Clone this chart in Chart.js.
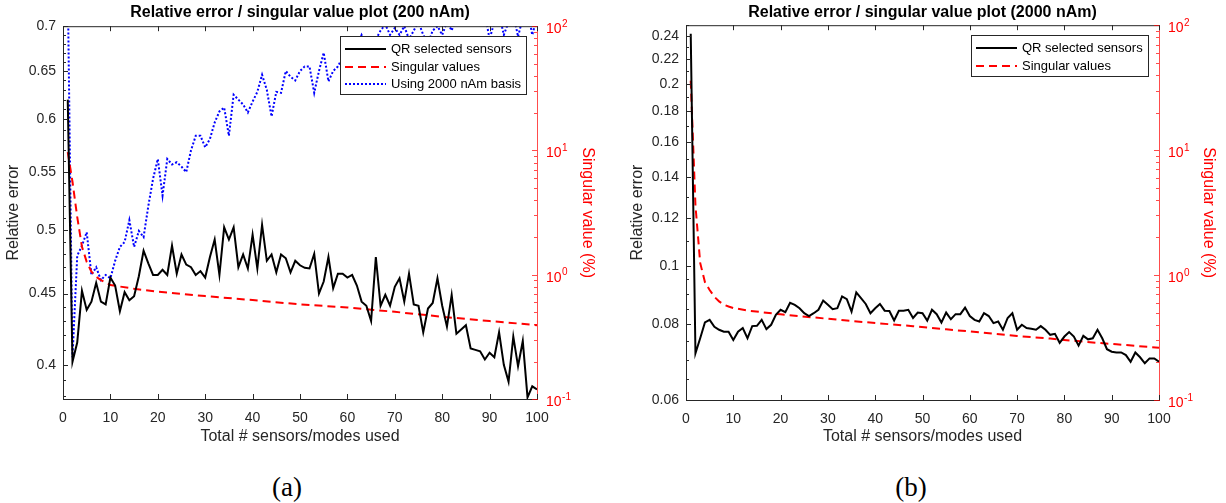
<!DOCTYPE html>
<html>
<head>
<meta charset="utf-8">
<script src="https://cdn.jsdelivr.net/npm/chart.js@4"></script>
<style>
  html, body { margin: 0; padding: 0; background: #fff; }
  #wrap { position: relative; width: 1226px; height: 503px; overflow: hidden; }
  canvas { position: absolute; top: 0; }
  #c200 { left: 0; }
  #c2000 { left: 613px; }
  .sub { position: absolute; top: 472px; width: 60px; margin-left: -30px; text-align: center;
         font: 27px 'Liberation Serif', 'Times New Roman', serif; line-height: 30px; color: #000; }
</style>
</head>
<body>
<div id="wrap">
  <canvas id="c200" width="613" height="455"></canvas>
  <canvas id="c2000" width="613" height="455"></canvas>
  <div class="sub" style="left:287px">(a)</div>
  <div class="sub" style="left:911px">(b)</div>
</div>
<script>
// sensor / mode counts
const sensors = Array.from({ length: 100 }, (_, i) => i + 1);

// 200 nAm source: QR relative error
const qrErr200 = [
  0.62, 0.402, 0.415, 0.452, 0.438, 0.444, 0.458, 0.444, 0.442, 0.462,
  0.456, 0.437, 0.451, 0.445, 0.448, 0.463, 0.483, 0.473, 0.464, 0.464,
  0.468, 0.464, 0.487, 0.465, 0.48, 0.472, 0.47, 0.464, 0.467, 0.462,
  0.478, 0.492, 0.464, 0.502, 0.492, 0.502, 0.47, 0.48, 0.469, 0.496,
  0.469, 0.504, 0.475, 0.48, 0.466, 0.48, 0.477, 0.466, 0.475, 0.4715,
  0.4695, 0.469, 0.4805, 0.45, 0.459, 0.478, 0.454, 0.465, 0.465, 0.462,
  0.464, 0.456, 0.444, 0.441, 0.43, 0.478, 0.441, 0.449, 0.441, 0.455,
  0.4615, 0.444, 0.465, 0.442, 0.441, 0.422, 0.439, 0.443, 0.4615, 0.441,
  0.426, 0.449, 0.421, 0.424, 0.427, 0.411, 0.41, 0.409, 0.4035, 0.408,
  0.405, 0.422, 0.4, 0.389, 0.419, 0.399, 0.416, 0.379, 0.386, 0.384
];

// 200 nAm source reconstructed with the 2000 nAm basis
const basis2000 = [
  0.75, 0.405, 0.479, 0.487, 0.498, 0.464, 0.47, 0.46, 0.464, 0.4615,
  0.475, 0.486, 0.49, 0.508, 0.486, 0.499, 0.494, 0.52, 0.544, 0.562,
  0.529, 0.562, 0.557, 0.559, 0.555, 0.55, 0.57, 0.584, 0.584, 0.573,
  0.581, 0.597, 0.608, 0.612, 0.584, 0.625, 0.62, 0.615, 0.607, 0.618,
  0.628, 0.646, 0.63, 0.603, 0.628, 0.627, 0.65, 0.644, 0.64, 0.65,
  0.655, 0.655, 0.627, 0.65, 0.67, 0.639, 0.65, 0.655, 0.665, 0.67,
  0.66, 0.675, 0.69, 0.68, 0.67, 0.685, 0.695, 0.702, 0.69, 0.698,
  0.69, 0.7, 0.685, 0.695, 0.705, 0.69, 0.68, 0.695, 0.7, 0.69,
  0.705, 0.695, 0.71, 0.715, 0.705, 0.72, 0.71, 0.7, 0.715, 0.685,
  0.705, 0.715, 0.69, 0.705, 0.715, 0.688, 0.71, 0.72, 0.69, 0.71
];

// singular values (%) of the 200 nAm basis
const svModes200 = [1, 2, 3, 4, 5, 6, 7, 8, 10, 15, 20, 30, 40, 50, 60, 70, 80, 90, 100];
const sv200 = [9.7, 5.6, 2.92, 1.68, 1.27, 1.06, 0.96, 0.906, 0.826, 0.771, 0.73, 0.673, 0.625, 0.577, 0.545, 0.503, 0.459, 0.424, 0.393];

// 2000 nAm source: QR relative error
const qrErr2000 = [
  0.242, 0.0717, 0.0759, 0.0806, 0.0814, 0.0793, 0.0784, 0.0778, 0.0778, 0.0754,
  0.0778, 0.0789, 0.0759, 0.0795, 0.0796, 0.0814, 0.0786, 0.0799, 0.083, 0.0846,
  0.0838, 0.0869, 0.0862, 0.0851, 0.0835, 0.0826, 0.0835, 0.0846, 0.0876, 0.0862,
  0.0848, 0.0851, 0.089, 0.0881, 0.084, 0.0904, 0.0884, 0.0865, 0.0835, 0.0851,
  0.0865, 0.0843, 0.0842, 0.0812, 0.0843, 0.0843, 0.0846, 0.082, 0.0837, 0.0835,
  0.0812, 0.0846, 0.0832, 0.0806, 0.0837, 0.0816, 0.0832, 0.0832, 0.0853, 0.0826,
  0.0814, 0.0809, 0.0835, 0.0826, 0.0804, 0.0809, 0.0784, 0.082, 0.0835, 0.0784,
  0.0799, 0.0789, 0.0787, 0.0784, 0.0795, 0.0784, 0.0769, 0.0772, 0.0746, 0.0764,
  0.0777, 0.0764, 0.0738, 0.0766, 0.0756, 0.0759, 0.0784, 0.0759, 0.0728, 0.0721,
  0.0719, 0.0719, 0.0712, 0.0694, 0.0719, 0.0706, 0.069, 0.0703, 0.0703, 0.0694
];

// singular values (%) of the 2000 nAm basis
const svModes2000 = [1, 2, 3, 4, 5, 6, 7, 8, 9, 10, 13, 20, 27, 34, 41, 48, 55, 62, 70, 77, 84, 91, 100];
const sv2000 = [36, 3.6, 1.25, 0.88, 0.76, 0.67, 0.615, 0.58, 0.56, 0.545, 0.52, 0.485, 0.458, 0.432, 0.41, 0.39, 0.368, 0.348, 0.325, 0.31, 0.293, 0.279, 0.262];

// tick values
const xTicks = [0, 10, 20, 30, 40, 50, 60, 70, 80, 90, 100];
const errTicks200 = [0.4, 0.45, 0.5, 0.55, 0.6, 0.65, 0.7];
const errTicks2000 = [0.06, 0.08, 0.1, 0.12, 0.14, 0.16, 0.18, 0.2, 0.22, 0.24];
const svTicks = [0.1, 1, 10, 100];

const FONT = "'Liberation Sans', Arial, Helvetica, sans-serif";
const AXIS = '#262626';
const RED = '#ff0000';

const steps = (from, to, step) => {
  const out = [];
  for (let v = from; v <= to + 1e-9; v += step) out.push(+v.toFixed(4));
  return out;
};
const errMinor200 = steps(0.38, 0.7, 0.01);
const errMinor2000 = steps(0.06, 0.1, 0.005).concat(steps(0.11, 0.25, 0.01));
const svMinor = [0.2, 0.3, 0.4, 0.5, 0.6, 0.7, 0.8, 0.9, 2, 3, 4, 5, 6, 7, 8, 9, 20, 30, 40, 50, 60, 70, 80, 90];

const pts = (xs, ys) => xs.map((x, i) => ({ x, y: ys[i] }));

// box-style axes: inward ticks, top frame line, red 10^n labels on the right
const boxAxes = {
  id: 'boxAxes',
  afterDatasetsDraw(chart, args, o) {
    const { ctx, chartArea: a, scales } = chart;
    const seg = (x1, y1, x2, y2) => { ctx.beginPath(); ctx.moveTo(x1, y1); ctx.lineTo(x2, y2); ctx.stroke(); };
    ctx.save();
    ctx.lineWidth = 1;
    ctx.strokeStyle = AXIS;
    seg(a.left, a.top + 0.5, a.right, a.top + 0.5);
    xTicks.forEach(v => {
      const px = Math.round(scales.x.getPixelForValue(v)) + 0.5;
      seg(px, a.bottom, px, a.bottom - 5);
      seg(px, a.top, px, a.top + 5);
    });
    const yMark = (scale, v, len, fromX, dir) => {
      const py = Math.round(scale.getPixelForValue(v)) + 0.5;
      seg(fromX, py, fromX + dir * len, py);
    };
    o.errMajor.forEach(v => yMark(scales.y, v, 5, a.left, 1));
    o.errMinor.forEach(v => yMark(scales.y, v, 3, a.left, 1));
    ctx.strokeStyle = 'rgba(255,0,0,0.7)';
    svTicks.forEach(v => yMark(scales.y2, v, 5, a.right, -1));
    svMinor.forEach(v => yMark(scales.y2, v, 3, a.right, -1));

    ctx.fillStyle = RED;
    ctx.textAlign = 'left';
    ctx.textBaseline = 'middle';
    svTicks.forEach(v => {
      const py = scales.y2.getPixelForValue(v);
      const x0 = a.right + 9;
      ctx.font = `14px ${FONT}`;
      ctx.fillText('10', x0, py + 3);
      const w = ctx.measureText('10').width;
      ctx.font = `10px ${FONT}`;
      ctx.fillText(String(Math.round(Math.log10(v))), x0 + w + 0.5, py - 2);
    });
    ctx.restore();
  }
};

// boxed legend in the upper right corner of the plot
const boxLegend = {
  id: 'boxLegend',
  afterDraw(chart) {
    const { ctx, chartArea: a } = chart;
    const sets = chart.data.datasets;
    ctx.save();
    ctx.font = `13px ${FONT}`;
    const tw = Math.max(...sets.map(d => ctx.measureText(d.label).width));
    const w = Math.round(51 + tw + 5);
    const h = Math.round(13 + 17.5 * (sets.length - 1) + 10);
    const x = Math.round(a.right - 11 - w);
    const y = Math.round(a.top + 10);
    ctx.fillStyle = '#fff';
    ctx.fillRect(x, y, w, h);
    ctx.strokeStyle = AXIS;
    ctx.lineWidth = 1;
    ctx.strokeRect(x + 0.5, y + 0.5, w, h);
    sets.forEach((d, i) => {
      const ly = Math.round(y + 13 + 17.5 * i);
      ctx.strokeStyle = d.borderColor;
      ctx.lineWidth = d.borderWidth;
      ctx.setLineDash(d.borderDash || []);
      ctx.beginPath();
      ctx.moveTo(x + 5, ly);
      ctx.lineTo(x + 46, ly);
      ctx.stroke();
      ctx.setLineDash([]);
      ctx.fillStyle = '#000';
      ctx.textBaseline = 'middle';
      ctx.fillText(d.label, x + 51, ly);
    });
    ctx.restore();
  }
};

function options(cfg) {
  return {
    responsive: false,
    animation: false,
    events: [],
    layout: { padding: 0 },
    elements: { point: { radius: 0 }, line: { tension: 0 } },
    plugins: {
      legend: { display: false },
      tooltip: { enabled: false },
      title: {
        display: true, text: cfg.title, color: '#000', fullSize: false,
        font: { size: 16, weight: 'bold', family: FONT },
        padding: { top: 3, bottom: cfg.titleGap }
      },
      boxAxes: { errMajor: cfg.errTicks, errMinor: cfg.errMinor }
    },
    scales: {
      x: {
        type: 'linear', min: 0, max: 100,
        afterBuildTicks: s => { s.ticks = xTicks.map(value => ({ value })); },
        afterFit: s => { s.height = cfg.xHeight; },
        grid: { display: false, drawTicks: false },
        border: { color: AXIS, width: 1 },
        ticks: { color: AXIS, font: { size: 14, family: FONT }, padding: 11, maxRotation: 0, autoSkip: false },
        title: { display: true, text: 'Total # sensors/modes used', color: AXIS,
                 font: { size: 16, family: FONT }, padding: { top: 0, bottom: 8.4 } }
      },
      y: {
        type: 'logarithmic', position: 'left', min: cfg.errMin, max: cfg.errMax,
        afterBuildTicks: s => { s.ticks = cfg.errTicks.map(value => ({ value })); },
        afterFit: s => { s.width = cfg.leftWidth; },
        grid: { display: false, drawTicks: false },
        border: { color: AXIS, width: 1 },
        ticks: { color: AXIS, font: { size: 14, family: FONT }, padding: 7, autoSkip: false,
                 callback: v => String(v) },
        title: { display: true, text: 'Relative error', color: AXIS,
                 font: { size: 16, family: FONT }, padding: { top: cfg.leftTitlePad, bottom: 0 } }
      },
      y2: {
        type: 'logarithmic', position: 'right', min: 0.1, max: 100,
        afterBuildTicks: s => { s.ticks = svTicks.map(value => ({ value })); },
        afterFit: s => { s.width = cfg.rightWidth; },
        grid: { display: false, drawTicks: false },
        border: { color: 'rgba(255,0,0,0.7)', width: 1 },
        ticks: { display: false },
        title: { display: true, text: 'Singular value (%)', color: RED,
                 font: { size: 16, family: FONT }, padding: { top: cfg.rightTitlePad, bottom: 0 } }
      }
    }
  };
}

new Chart(document.getElementById('c200'), {
  type: 'line',
  data: {
    datasets: [
      { label: 'QR selected sensors', data: pts(sensors, qrErr200), yAxisID: 'y',
        borderColor: '#000', borderWidth: 2, clip: 0 },
      { label: 'Singular values', data: pts(svModes200, sv200), yAxisID: 'y2',
        borderColor: RED, borderWidth: 2, borderDash: [8, 5], clip: 0 },
      { label: 'Using 2000 nAm basis', data: pts(sensors, basis2000), yAxisID: 'y',
        borderColor: '#0000ff', borderWidth: 2, borderDash: [2, 2], clip: 0 }
    ]
  },
  options: options({
    title: 'Relative error / singular value plot (200 nAm)', titleGap: 4,
    errMin: 0.378, errMax: 0.7, errTicks: errTicks200, errMinor: errMinor200,
    leftWidth: 63, rightWidth: 76, xHeight: 56, leftTitlePad: 4, rightTitlePad: 16.4
  }),
  plugins: [boxAxes, boxLegend]
});

new Chart(document.getElementById('c2000'), {
  type: 'line',
  data: {
    datasets: [
      { label: 'QR selected sensors', data: pts(sensors, qrErr2000), yAxisID: 'y',
        borderColor: '#000', borderWidth: 2, clip: 0 },
      { label: 'Singular values', data: pts(svModes2000, sv2000), yAxisID: 'y2',
        borderColor: RED, borderWidth: 2, borderDash: [8, 5], clip: 0 }
    ]
  },
  options: options({
    title: 'Relative error / singular value plot (2000 nAm)', titleGap: 3,
    errMin: 0.06, errMax: 0.25, errTicks: errTicks2000, errMinor: errMinor2000,
    leftWidth: 73, rightWidth: 67, xHeight: 55, leftTitlePad: 15, rightTitlePad: 8.4
  }),
  plugins: [boxAxes, boxLegend]
});
</script>
</body>
</html>
